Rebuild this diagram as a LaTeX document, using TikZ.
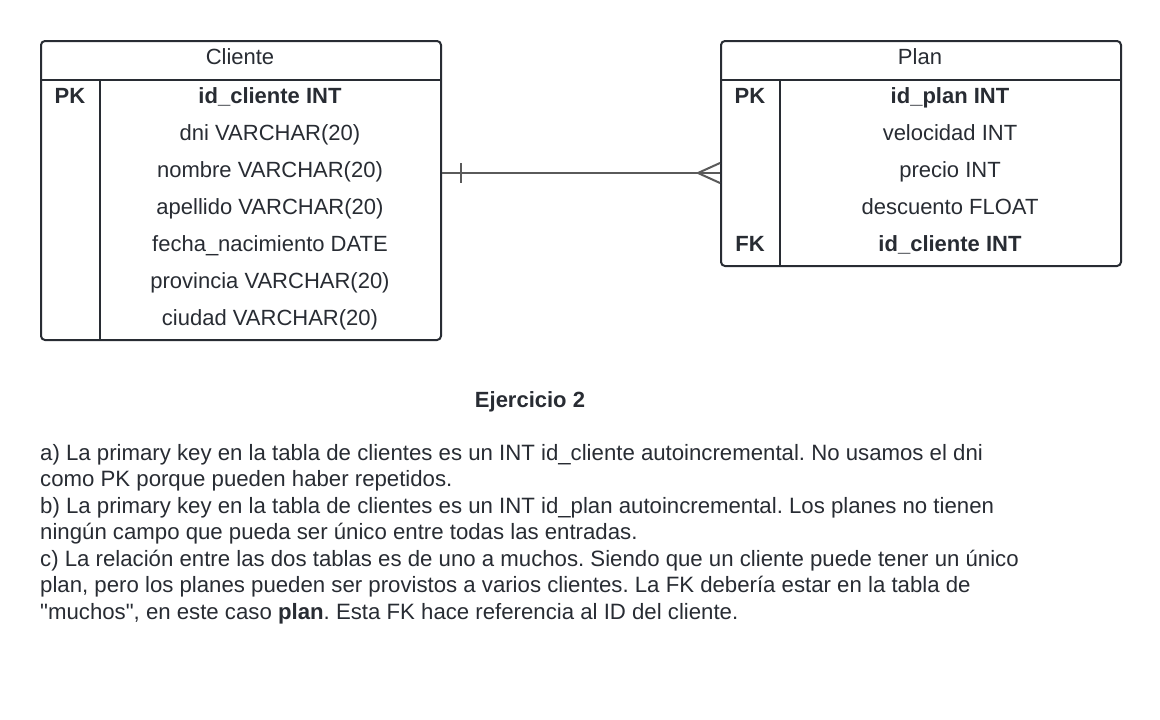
\documentclass[tikz,border=0pt]{standalone}
\usepackage{fontspec}
\setmainfont{Liberation Sans}[Ligatures=TeXOff]
\frenchspacing
\definecolor{ink}{HTML}{282C33}
\definecolor{conn}{HTML}{5A5A5A}
\tikzset{
  tablebox/.style={draw=ink, line width=2pt, rounded corners=4pt, inner sep=0pt, anchor=north west},
  rule/.style={draw=ink, line width=2pt},
  cell/.style={anchor=base, inner sep=0pt, text=ink, font=\fontsize{22}{26}\selectfont},
  keycell/.style={cell, font=\fontsize{22}{26}\selectfont\bfseries},
  para/.style={anchor=base west, inner sep=0pt, text=ink, font=\fontsize{22.2}{26}\selectfont},
  relline/.style={draw=conn, line width=2pt}
}
\begin{document}
\begin{tikzpicture}[x=1pt,y=-1pt]
\useasboundingbox[fill=white] (0,0) rectangle (1160,720);
% Cliente table
\node[tablebox, minimum width=400pt, minimum height=299pt] (cliente) at (40,40) {};
\draw[rule] (40,80) -- (440,80);
\draw[rule] (100,80) -- (100,339);
\node[cell] (ctitle) at (240,64) {Cliente};
\node[keycell] (cpk) at (70,103) {PK};
\node[keycell] (c1) at (270,103) {id\_cliente INT};
\node[cell] (c2) at (270,140) {dni VARCHAR(20)};
\node[cell] (c3) at (270,177) {nombre VARCHAR(20)};
\node[cell] (c4) at (270,214) {apellido VARCHAR(20)};
\node[cell] (c5) at (270,251) {fecha\_nacimiento DATE};
\node[cell] (c6) at (270,288) {provincia VARCHAR(20)};
\node[cell] (c7) at (270,325) {ciudad VARCHAR(20)};
% Plan table
\node[tablebox, minimum width=400pt, minimum height=225pt] (plan) at (720,40) {};
\draw[rule] (720,80) -- (1120,80);
\draw[rule] (780,80) -- (780,265);
\node[cell] (ptitle) at (920,64) {Plan};
\node[keycell] (ppk) at (750,103) {PK};
\node[keycell] (p1) at (950,103) {id\_plan INT};
\node[cell] (p2) at (950,140) {velocidad INT};
\node[cell] (p3) at (950,177) {precio INT};
\node[cell] (p4) at (950,214) {descuento FLOAT};
\node[keycell] (pfk) at (750,251) {FK};
\node[keycell] (p5) at (950,251) {id\_cliente INT};
% Relationship
\coordinate (rel) at (0,173);
\coordinate (relt) at (0,163);
\coordinate (relb) at (0,183);
\coordinate (crow) at (698,173);
\draw[relline] (cliente.east |- rel) -- (plan.west |- rel);
\draw[relline] (461,163) -- (461,183);
\draw[relline] (plan.west |- relt) -- (crow) -- (plan.west |- relb);
% Text
\node[cell, font=\fontsize{22}{26}\selectfont\bfseries] (title) at (530,407) {Ejercicio 2};
\node[para] (l1) at (40,460) {a) La primary key en la tabla de clientes es un INT id\_cliente autoincremental. No usamos el dni};
\node[para] (l2) at (40,486.5) {como PK porque pueden haber repetidos.};
\node[para] (l3) at (40,513) {b) La primary key en la tabla de clientes es un INT id\_plan autoincremental. Los planes no tienen};
\node[para] (l4) at (40,539.5) {ningún campo que pueda ser único entre todas las entradas.};
\node[para] (l5) at (40,566) {c) La relación entre las dos tablas es de uno a muchos. Siendo que un cliente puede tener un único};
\node[para] (l6) at (40,592.5) {plan, pero los planes pueden ser provistos a varios clientes. La FK debería estar en la tabla de};
\node[para] (l7) at (40,619) {"muchos", en este caso \textbf{plan}. Esta FK hace referencia al ID del cliente.};
\end{tikzpicture}
\end{document}
